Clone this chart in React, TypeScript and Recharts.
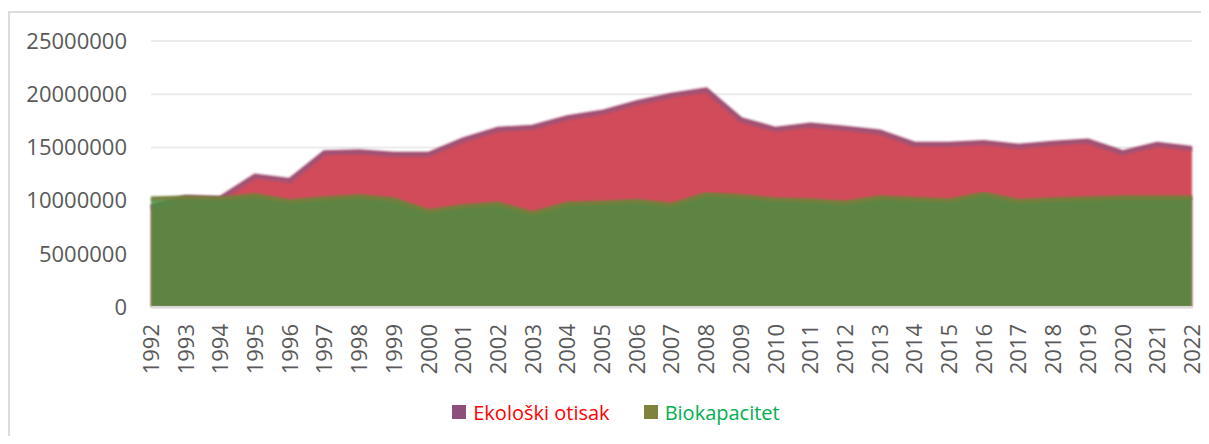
import { AreaChart, Area, XAxis, YAxis, CartesianGrid, Legend } from 'recharts';

const years = [
  '1992', '1993', '1994', '1995', '1996', '1997', '1998', '1999', '2000', '2001', '2002',
  '2003', '2004', '2005', '2006', '2007', '2008', '2009', '2010', '2011', '2012', '2013',
  '2014', '2015', '2016', '2017', '2018', '2019', '2020', '2021', '2022',
];

const ekoloskiOtisak = [
  9400000, 10300000, 10200000, 12300000, 11900000, 14500000, 14600000, 14350000, 14350000,
  15700000, 16700000, 16900000, 17800000, 18300000, 19200000, 19900000, 20400000, 17600000,
  16700000, 17100000, 16800000, 16450000, 15300000, 15300000, 15450000, 15100000, 15400000,
  15600000, 14500000, 15300000, 14900000,
];

const biokapacitet = [
  10200000, 10300000, 10200000, 10500000, 9930000, 10200000, 10400000, 10100000, 9000000,
  9460000, 9700000, 8800000, 9700000, 9800000, 9960000, 9600000, 10600000, 10400000,
  10100000, 10000000, 9800000, 10300000, 10150000, 10000000, 10650000, 9960000, 10100000,
  10200000, 10300000, 10300000, 10300000,
];

const yTicks = [0, 5000000, 10000000, 15000000, 20000000, 25000000];

const data = years.map((year, i) => ({
  year,
  otisak: ekoloskiOtisak[i],
  bio: biokapacitet[i],
}));

const FONT = '"Open Sans", "Liberation Sans", sans-serif';

const legendItems = [
  { label: 'Ekološki otisak', box: '#8c4f7c', text: '#ff0000' },
  { label: 'Biokapacitet', box: '#80803f', text: '#00b050' },
];

function YearTick({ x, y, payload }: any) {
  return (
    <text
      x={x}
      y={y + 15}
      transform={`rotate(-90, ${x}, ${y + 15})`}
      textAnchor="end"
      dy="0.36em"
      fill="#595959"
      fontSize={22}
      fontFamily={FONT}
    >
      {payload.value}
    </text>
  );
}

function ChartLegend() {
  return (
    <div
      style={{
        height: 57,
        display: 'flex',
        alignItems: 'flex-start',
        justifyContent: 'center',
        paddingLeft: 40,
        fontFamily: FONT,
        fontSize: 20,
      }}
    >
      {legendItems.map((it, i) => (
        <div
          key={it.label}
          style={{ display: 'flex', alignItems: 'center', height: 50, marginLeft: i ? 34 : 0 }}
        >
          <span style={{ width: 14, height: 14, background: it.box, display: 'inline-block', marginRight: 7 }} />
          <span style={{ color: it.text }}>{it.label}</span>
        </div>
      ))}
    </div>
  );
}

export default function App() {
  return (
    <div style={{ position: 'relative', margin: -8, width: 1209, height: 444, overflow: 'hidden', fontFamily: FONT }}>
      <div
        style={{
          position: 'absolute',
          left: 8,
          top: 11,
          right: 0,
          bottom: 0,
          borderTop: '2px solid #dcdcdc',
          borderLeft: '2px solid #dcdcdc',
        }}
      />
      <AreaChart
        width={1209}
        height={444}
        data={data}
        margin={{ top: 41, right: 17, left: 0, bottom: 0 }}
      >
        <defs>
          <filter id="soft" x="-2%" y="-5%" width="104%" height="110%">
            <feGaussianBlur stdDeviation="1.3" />
          </filter>
        </defs>
        <CartesianGrid vertical={false} stroke="#ebebeb" strokeWidth={2} />
        <XAxis
          dataKey="year"
          interval={0}
          tickLine={false}
          tickSize={0}
          axisLine={{ stroke: '#d9d9d9', strokeWidth: 2 }}
          height={80}
          tick={<YearTick />}
        />
        <YAxis
          domain={[0, 25000000]}
          ticks={yTicks}
          width={151}
          tickLine={false}
          axisLine={false}
          tickSize={0}
          tickMargin={24}
          tick={{ fill: '#595959', fontSize: 22, fontFamily: FONT }}
        />
        <Legend verticalAlign="bottom" content={() => <ChartLegend />} />
        <Area
          type="linear"
          dataKey="otisak"
          name="Ekološki otisak"
          fill="#d14b5a"
          fillOpacity={1}
          stroke="#a04f72"
          strokeWidth={5}
          filter="url(#soft)"
          isAnimationActive={false}
        />
        <Area
          type="linear"
          dataKey="bio"
          name="Biokapacitet"
          fill="#4a8e40"
          fillOpacity={0.85}
          stroke="#73803a"
          strokeWidth={4}
          filter="url(#soft)"
          isAnimationActive={false}
        />
      </AreaChart>
    </div>
  );
}
